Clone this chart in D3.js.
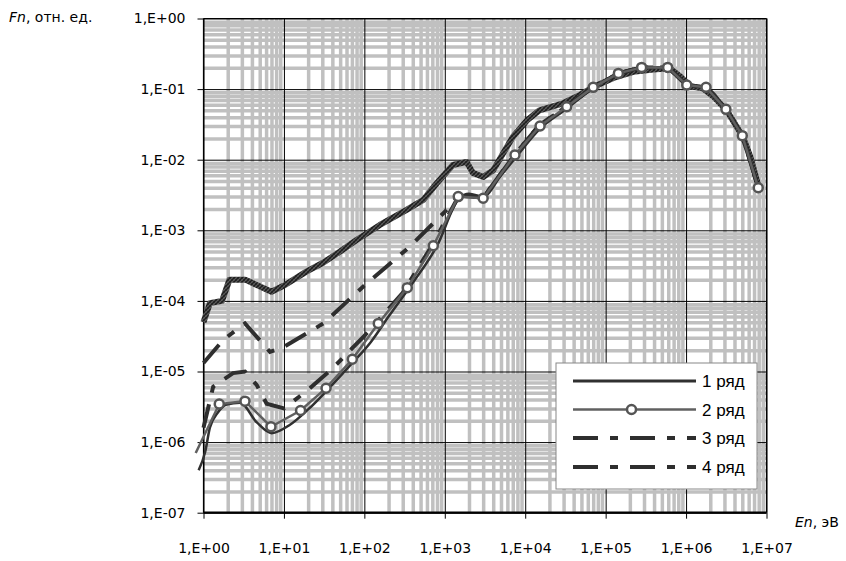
<!DOCTYPE html>
<html><head><meta charset="utf-8">
<script src="https://cdn.jsdelivr.net/npm/d3@7"></script>
<style>body{margin:0;background:#fff}svg{display:block}</style>
</head><body>
<svg id="chart" width="846" height="561"></svg>
<script>
// ---- data ----
const xTickValues = [1, 1e1, 1e2, 1e3, 1e4, 1e5, 1e6, 1e7];
const xTickLabels = ["1,E+00","1,E+01","1,E+02","1,E+03","1,E+04","1,E+05","1,E+06","1,E+07"];
const yTickValues = [1e-7, 1e-6, 1e-5, 1e-4, 1e-3, 1e-2, 1e-1, 1];
const yTickLabels = ["1,E-07","1,E-06","1,E-05","1,E-04","1,E-03","1,E-02","1,E-01","1,E+00"];
const seriesNames = ["1 ряд","2 ряд","3 ряд","4 ряд"];

// textured spectrum curve (no legend entry)
const envE = [1, 1.2, 1.7, 2.1, 3.3, 7, 10.3, 19, 31, 50, 80, 156, 335, 540, 790, 1260, 1870, 2240, 3000, 4000, 7000, 10500, 15000, 29500, 48000, 70000, 125000, 220000, 390000, 630000, 850000, 1120000, 1600000, 2200000, 3200000, 5100000, 6300000, 8000000];
const envF = [5e-5, 9.3e-5, 1.0e-4, 2.0e-4, 2.0e-4, 1.35e-4, 1.68e-4, 2.6e-4, 3.5e-4, 5e-4, 7.3e-4, 1.19e-3, 1.95e-3, 2.7e-3, 4.6e-3, 8.4e-3, 9.3e-3, 6.5e-3, 5.7e-3, 7.1e-3, 0.021, 0.036, 0.05, 0.063, 0.083, 0.107, 0.144, 0.176, 0.19, 0.197, 0.15, 0.11, 0.103, 0.078, 0.05, 0.021, 0.011, 4.1e-3];

// 1 ряд
const s1E = [0.87, 1.05, 1.2, 1.5, 1.94, 2.85, 4.6, 7.05, 11.9, 20, 40, 70, 120, 200, 400, 800, 1500, 2000, 3000, 5000, 7500, 15000, 33000, 70000, 144000, 280000, 590000, 1020000, 1770000, 3130000, 5000000, 7900000];
const s1F = [4e-7, 7.3e-7, 1.6e-6, 2.6e-6, 3.4e-6, 3.6e-6, 1.9e-6, 1.34e-6, 1.76e-6, 2.9e-6, 6.5e-6, 1.3e-5, 2.6e-5, 6e-5, 1.8e-4, 6e-4, 2.8e-3, 3.3e-3, 3e-3, 6e-3, 1.05e-2, 0.027, 0.053, 0.104, 0.165, 0.2, 0.2, 0.113, 0.105, 0.051, 0.0217, 4e-3];

// 2 ряд (markers)
const s2E = [0.8, 1.57, 3.28, 6.9, 16.1, 33.4, 70.8, 149, 342, 720, 1470, 3000, 7460, 15300, 32800, 70000, 144000, 280000, 590000, 1020000, 1770000, 3130000, 5000000, 7900000];
const s2F = [7e-7, 3.46e-6, 3.8e-6, 1.65e-6, 2.8e-6, 5.8e-6, 1.49e-5, 4.8e-5, 1.54e-4, 6.05e-4, 3.0e-3, 2.84e-3, 0.0117, 0.030, 0.0564, 0.106, 0.167, 0.203, 0.203, 0.114, 0.106, 0.0517, 0.0219, 4.0e-3];

// 3 ряд
const s3E = [1, 1.76, 3.28, 6.7, 9.8, 31, 97, 369, 1160, 1500, 3000, 7500, 15000, 33000, 70000, 144000, 280000, 590000, 1020000, 1770000, 3130000, 5000000, 7900000];
const s3F = [1.32e-5, 2.8e-5, 4.8e-5, 1.9e-5, 2.2e-5, 4.8e-5, 1.6e-4, 5.9e-4, 2.16e-3, 3.1e-3, 2.9e-3, 0.012, 0.031, 0.057, 0.106, 0.167, 0.203, 0.203, 0.114, 0.106, 0.0517, 0.0219, 4.0e-3];

// 4 ряд
const s4E = [1, 1.32, 2.33, 3.28, 4.6, 6.1, 10, 20, 40, 100, 300, 700, 1500, 3000, 7500, 15000, 33000, 70000, 144000, 280000, 590000, 1020000, 1770000, 3130000, 5000000, 7900000];
const s4F = [1.6e-6, 6.1e-6, 9.5e-6, 1.0e-5, 6.4e-6, 3.5e-6, 3.0e-6, 5.5e-6, 1.1e-5, 3.2e-5, 1.3e-4, 6.2e-4, 3.1e-3, 2.9e-3, 0.012, 0.031, 0.057, 0.106, 0.167, 0.203, 0.203, 0.114, 0.106, 0.0517, 0.0219, 4.0e-3];

// ---- chart ----
const svg = d3.select("#chart");
const L = 203.5, R = 766.5, T = 18.5, B = 512.7;
const x = d3.scaleLog().domain([1, 1e7]).range([L, R]);
const y = d3.scaleLog().domain([1e-7, 1]).range([B, T]);

const defs = svg.append("defs");
const pat = defs.append("pattern").attr("id","tex").attr("patternUnits","userSpaceOnUse")
  .attr("width",4).attr("height",4);
pat.append("rect").attr("width",4).attr("height",4).attr("fill","#5a5a5a");
pat.append("path").attr("d","M0,4 L4,0 M-1,1 L1,-1 M3,5 L5,3").attr("stroke","#1e1e1e").attr("stroke-width",1.3);
pat.append("path").attr("d","M0,0 L4,4").attr("stroke","#2a2a2a").attr("stroke-width",0.8);
defs.append("clipPath").attr("id","plotclip").append("rect")
  .attr("x",L).attr("y",T - 10).attr("width",R - L + 10).attr("height",B - T + 10);

// minor grid
const minorX = [], minorY = [];
for (let d = 0; d < 7; d++) for (let k = 2; k <= 9; k++) minorX.push(k * Math.pow(10, d));
for (let d = -7; d < 0; d++) for (let k = 2; k <= 9; k++) minorY.push(k * Math.pow(10, d));

const g = svg.append("g");
g.append("g").attr("transform",`translate(0,${B})`)
  .call(d3.axisBottom(x).tickValues(minorX).tickSize(-(B - T)).tickFormat(""))
  .call(a => { a.select(".domain").remove(); a.selectAll("line").attr("stroke","#c0c0c0").attr("stroke-width",3.5); });
g.append("g").attr("transform",`translate(${L},0)`)
  .call(d3.axisLeft(y).tickValues(minorY).tickSize(-(R - L)).tickFormat(""))
  .call(a => { a.select(".domain").remove(); a.selectAll("line").attr("stroke","#c0c0c0").attr("stroke-width",3.5); });
// major grid
g.append("g").attr("transform",`translate(0,${B})`)
  .call(d3.axisBottom(x).tickValues(xTickValues).tickSize(-(B - T)).tickFormat(""))
  .call(a => { a.select(".domain").remove(); a.selectAll("line").attr("stroke","#000").attr("stroke-width",1); });
g.append("g").attr("transform",`translate(${L},0)`)
  .call(d3.axisLeft(y).tickValues(yTickValues).tickSize(-(R - L)).tickFormat(""))
  .call(a => { a.select(".domain").remove(); a.selectAll("line").attr("stroke","#000").attr("stroke-width",1); });

// border top/right
svg.append("line").attr("x1",L).attr("x2",R).attr("y1",T).attr("y2",T).attr("stroke","#000").attr("stroke-width",1.2);
svg.append("line").attr("x1",R).attr("x2",R).attr("y1",T).attr("y2",B).attr("stroke","#000").attr("stroke-width",1.2);

// axes
const fontTick = "'DejaVu Sans', Verdana, sans-serif";
const yAx = svg.append("g").attr("transform",`translate(${L},0)`)
  .call(d3.axisLeft(y).tickValues(yTickValues).tickSize(6).tickPadding(12).tickFormat((d,i)=>yTickLabels[i]));
yAx.select(".domain").attr("stroke","#000").attr("stroke-width",1.2).attr("d",`M0,${T}V${B}`);
yAx.selectAll("line").attr("stroke","#000");
yAx.selectAll("text").attr("font-family",fontTick).attr("font-size",14).attr("fill","#000");

const xAx = svg.append("g").attr("transform",`translate(0,${B})`)
  .call(d3.axisBottom(x).tickValues(xTickValues).tickSize(6).tickPadding(24).tickFormat((d,i)=>xTickLabels[i]));
xAx.select(".domain").attr("stroke","#000").attr("stroke-width",2.2).attr("d",`M${L},0H${R}`);
xAx.selectAll("line").attr("stroke","#000");
xAx.selectAll("text").attr("font-family",fontTick).attr("font-size",14).attr("fill","#000");

// axis titles
const yt = svg.append("text").attr("x",9).attr("y",22).attr("font-family",fontTick).attr("font-size",14);
yt.append("tspan").attr("font-style","italic").text("Fn");
yt.append("tspan").text(", отн. ед.");
const xt = svg.append("text").attr("x",795).attr("y",527).attr("font-family",fontTick).attr("font-size",14);
xt.append("tspan").attr("font-style","italic").text("En");
xt.append("tspan").text(", эВ");

// series
const line = d3.line().x(d => x(d[0])).y(d => y(d[1]));
const zip = (a, b) => a.map((v, i) => [v, b[i]]);
const dashPat = "24,12,8,12";

svg.append("path").datum(zip(envE, envF)).attr("d", line)
  .attr("fill","none").attr("stroke","url(#tex)").attr("stroke-width",6).attr("stroke-linejoin","round");

svg.append("path").datum(zip(s1E, s1F)).attr("d", line.curve(d3.curveMonotoneX))
  .attr("fill","none").attr("stroke","#303030").attr("stroke-width",2.5);
line.curve(d3.curveLinear);
svg.append("path").datum(zip(s3E, s3F)).attr("d", line)
  .attr("fill","none").attr("stroke","#2e2e2e").attr("stroke-width",4).attr("stroke-dasharray",dashPat);
svg.append("path").datum(zip(s4E, s4F)).attr("d", line)
  .attr("fill","none").attr("stroke","#2e2e2e").attr("stroke-width",4).attr("stroke-dasharray",dashPat);
svg.append("path").datum(zip(s2E, s2F)).attr("d", line)
  .attr("fill","none").attr("stroke","#606060").attr("stroke-width",2.5);
svg.append("g").attr("clip-path","url(#plotclip)").selectAll("circle").data(zip(s2E, s2F)).join("circle")
  .attr("cx", d => x(d[0])).attr("cy", d => y(d[1])).attr("r",4.5)
  .attr("fill","#fff").attr("stroke","#555").attr("stroke-width",2.5);

// legend
const lg = svg.append("g");
lg.append("rect").attr("x",556).attr("y",363).attr("width",201).attr("height",126)
  .attr("fill","#fff").attr("stroke","#888").attr("stroke-width",1);
const rows = [381, 409.5, 438, 467];
const lfont = "'Liberation Sans Narrow', 'Liberation Sans', Arial, sans-serif";
seriesNames.forEach((n, i) => {
  const yy = rows[i];
  const ln = lg.append("line").attr("x1",573).attr("x2",696).attr("y1",yy).attr("y2",yy);
  if (i === 0) ln.attr("stroke","#303030").attr("stroke-width",3);
  if (i === 1) { ln.attr("stroke","#606060").attr("stroke-width",2.5);
    lg.append("circle").attr("cx",631.5).attr("cy",yy).attr("r",4.5).attr("fill","#fff").attr("stroke","#555").attr("stroke-width",2.5); }
  if (i >= 2) ln.attr("stroke","#2e2e2e").attr("stroke-width",4).attr("stroke-dasharray","25,12,8,12");
  lg.append("text").attr("x",702).attr("y",yy + 6).attr("font-family",lfont).attr("font-size",17).text(n);
});
</script>
</body></html>
